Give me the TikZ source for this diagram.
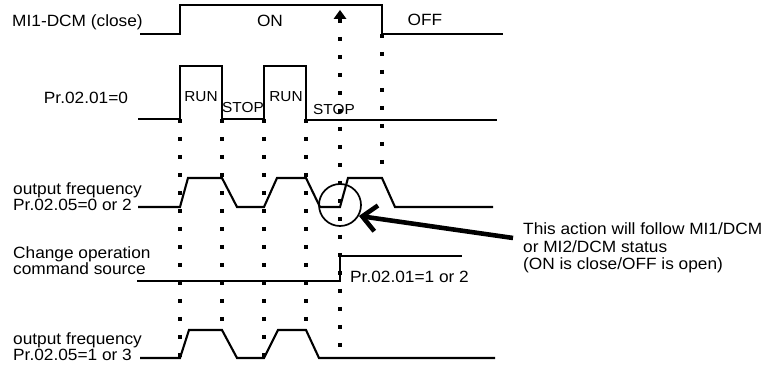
\documentclass[tikz,border=0pt]{standalone}
\usepackage{fontspec}
\setmainfont{Liberation Sans}[FakeStretch=1.06]
\usetikzlibrary{arrows.meta}

\begin{document}
\begin{tikzpicture}[
  x=1pt, y=-1pt,
  every node/.style={font=\fontsize{16.3}{16.5}\selectfont, inner sep=0pt},
  wave/.style={line width=2.1pt},
  guide/.style={line width=3.2pt, dash pattern=on 4.5pt off 13.5pt},
  tag/.style={font=\fontsize{14.5}{16}\selectfont},
  callout/.style={line width=4.6pt, -{Straight Barb[length=14pt,width=26pt]}}
]
\useasboundingbox (0,0) rectangle (764,371);

% ============================================================
% MI1-DCM (close)
% ============================================================
\node[anchor=base west] (midcm) at (12,27) {MI1-DCM (close)};
\draw[wave] (140,34) -- (180,34) -- (180,5) -- (382,5) -- (382,34) -- (503,34);
\node[anchor=base] (on) at (270,27) {ON};
\node[anchor=base] (off) at (425,26) {OFF};

% ============================================================
% Pr.02.01=0 (RUN / STOP)
% ============================================================
\node[anchor=base] (pr0) at (86,104) {Pr.02.01=0};
\draw[wave] (138,119) -- (180,119) -- (180,66) -- (222,66) -- (222,119)
  -- (264,119) -- (264,66) -- (306,66) -- (306,120);
\draw[line width=2.8pt] (306,120) -- (497,120);
\node[tag, anchor=base] (run1) at (201,102) {RUN};
\node[tag, anchor=base] (stop1) at (243,113) {STOP};
\node[tag, anchor=base] (run2) at (286,102) {RUN};
\node[tag, anchor=base] (stop2) at (334,115) {STOP};

% ============================================================
% Output frequency, Pr.02.05=0 or 2
% ============================================================
\node[anchor=base west, align=left] (freqa) at (13,211)
  {output frequency\\Pr.02.05=0 or 2};
\draw[wave] (138,207) -- (180,207) -- (188,178) -- (222,178) -- (237,207)
  -- (264,207) -- (277,178) -- (306,178) -- (320,207) -- (340,207)
  -- (348,178) -- (382,178) -- (395,207) -- (493,207);
\node[circle, draw, line width=1.7pt, minimum size=42pt] (blip) at (340,205) {};

% ============================================================
% Change operation command source
% ============================================================
\node[anchor=base west, align=left] (cmdsrc) at (13,275)
  {Change operation\\command source};
\draw[wave] (137,281) -- (340,281) -- (340,256) -- (462,256);
\node[anchor=base west] (pr12) at (350,283) {Pr.02.01=1 or 2};

% ============================================================
% Output frequency, Pr.02.05=1 or 3
% ============================================================
\node[anchor=base west, align=left] (freqb) at (13,361)
  {output frequency\\Pr.02.05=1 or 3};
\draw[wave] (140,358) -- (180,358) -- (189,330) -- (222,330) -- (237,358)
  -- (264,358) -- (278,330) -- (306,330) -- (319,358) -- (495,358);

% ============================================================
% Dotted guides
% ============================================================
\foreach \x/\ya/\yb in {180/119/358, 222/119/330, 264/119/358, 306/119/330, 382/34/178} {
  \draw[guide] (\x,\ya) -- (\x,\yb);
}
\draw[guide, {Triangle[length=9pt,width=13pt,line width=0pt]}-] (340,10) -- (340,358);

% ============================================================
% Note
% ============================================================
\node[anchor=base west, align=left, font=\fontsize{16.3}{17.5}\selectfont] (note) at (523,270)
  {This action will follow MI1/DCM\\or MI2/DCM status\\(ON is close/OFF is open)};
\coordinate (tail) at (513,238);
\draw[callout] (tail) -- (blip.-30);

\end{tikzpicture}
\end{document}
